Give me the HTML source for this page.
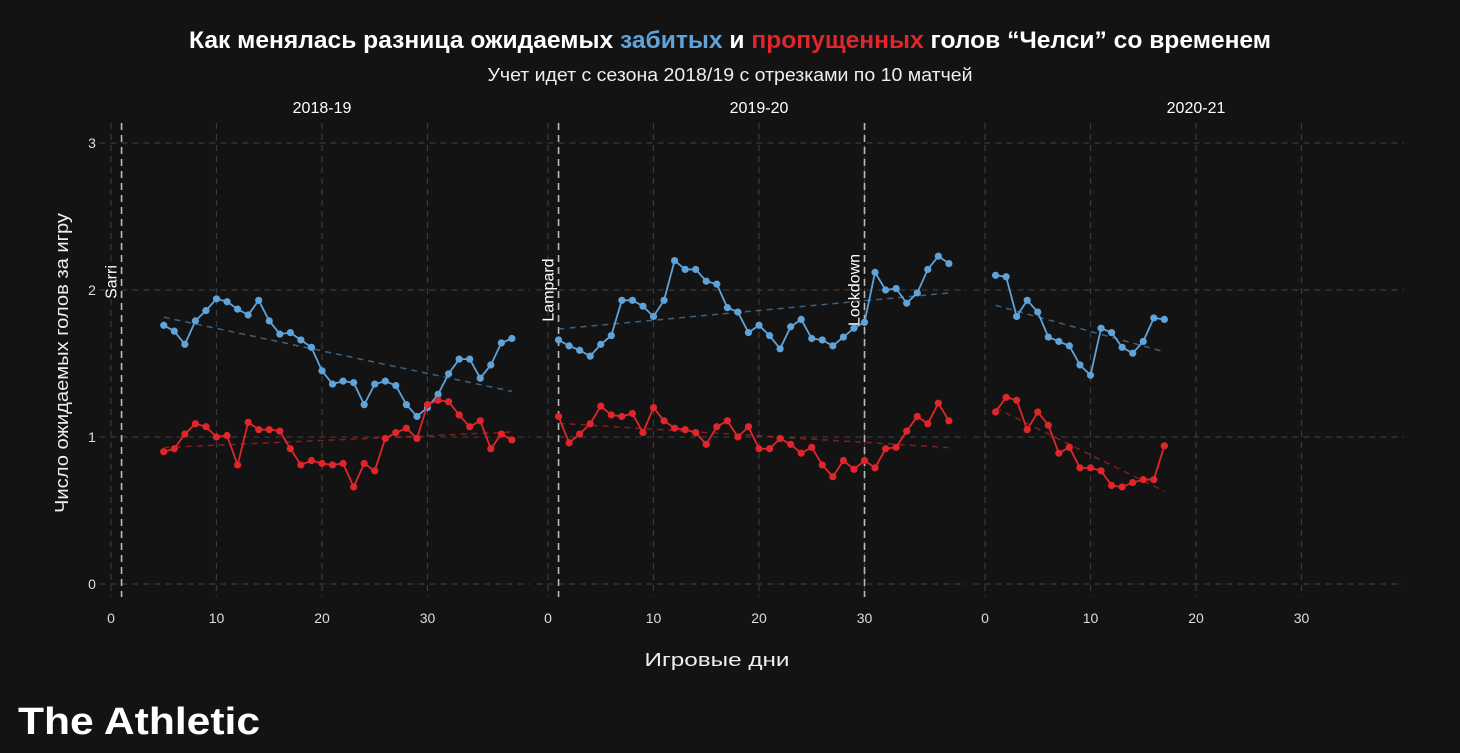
<!DOCTYPE html>
<html><head><meta charset="utf-8"><style>
html,body{margin:0;padding:0;background:#131313;}
svg{display:block;font-family:"Liberation Sans","Noto Sans CJK SC",sans-serif;}
</style></head><body>
<svg id="chart" width="1460" height="753" viewBox="0 0 1460 753" xmlns="http://www.w3.org/2000/svg">
<rect width="1460" height="753" fill="#131313"/>
<text x="730" y="48" text-anchor="middle" fill="#fff" font-size="24" font-weight="bold" textLength="1082" lengthAdjust="spacingAndGlyphs">Как менялась разница ожидаемых <tspan fill="#5fa3d9">забитых</tspan> и <tspan fill="#e0262b">пропущенных</tspan> голов “Челси” со временем</text>
<text x="730" y="81" text-anchor="middle" fill="#eee" font-size="18" textLength="485" lengthAdjust="spacingAndGlyphs">Учет идет с сезона 2018/19 с отрезками по 10 матчей</text>
<text transform="translate(68,363) rotate(-90)" text-anchor="middle" fill="#eee" font-size="18" textLength="300" lengthAdjust="spacingAndGlyphs">Число ожидаемых голов за игру</text>
<text x="717" y="666" text-anchor="middle" fill="#eee" font-size="18" textLength="145" lengthAdjust="spacingAndGlyphs">Игровые дни</text>
<text x="18" y="734" fill="#fff" font-size="38" font-weight="bold" textLength="242" lengthAdjust="spacingAndGlyphs">The Athletic</text>
<g id="plot"></g>
</svg>
<script>
const seasons = ["2018-19","2019-20","2020-21"];
const xTicks = [0,10,20,30];
const yTicks = [0,1,2,3];
const xgFor1 = [1.76,1.72,1.63,1.79,1.86,1.94,1.92,1.87,1.83,1.93,1.79,1.70,1.71,1.66,1.61,1.45,1.36,1.38,1.37,1.22,1.36,1.38,1.35,1.22,1.14,1.20,1.29,1.43,1.53,1.53,1.40,1.49,1.64,1.67];
const xgAg1 = [0.90,0.92,1.02,1.09,1.07,1.00,1.01,0.81,1.10,1.05,1.05,1.04,0.92,0.81,0.84,0.82,0.81,0.82,0.66,0.82,0.77,0.99,1.03,1.06,0.99,1.22,1.25,1.24,1.15,1.07,1.11,0.92,1.02,0.98];
const start1 = 5;
const xgFor2 = [1.66,1.62,1.59,1.55,1.63,1.69,1.93,1.93,1.89,1.82,1.93,2.20,2.14,2.14,2.06,2.04,1.88,1.85,1.71,1.76,1.69,1.60,1.75,1.80,1.67,1.66,1.62,1.68,1.74,1.78,2.12,2.00,2.01,1.91,1.98,2.14,2.23,2.18];
const xgAg2 = [1.14,0.96,1.02,1.09,1.21,1.15,1.14,1.16,1.03,1.20,1.11,1.06,1.05,1.03,0.95,1.07,1.11,1.00,1.07,0.92,0.92,0.99,0.95,0.89,0.93,0.81,0.73,0.84,0.78,0.84,0.79,0.92,0.93,1.04,1.14,1.09,1.23,1.11];
const start2 = 1;
const xgFor3 = [2.10,2.09,1.82,1.93,1.85,1.68,1.65,1.62,1.49,1.42,1.74,1.71,1.61,1.57,1.65,1.81,1.80];
const xgAg3 = [1.17,1.27,1.25,1.05,1.17,1.08,0.89,0.93,0.79,0.79,0.77,0.67,0.66,0.69,0.71,0.71,0.94];
const start3 = 1;
const eventNames = ["Sarri","Lampard","Lockdown"];
const eventPanels = [0,1,1];
const eventDays = [1,1,30];

const NS="http://www.w3.org/2000/svg";
const plot=document.getElementById('plot');
const panelX0=[111,548,985];
const pxPerDay=10.55;
function xs(p,d){return panelX0[p]+d*pxPerDay;}
function ys(v){return 584-v*147;}
function mk(tag,attrs,parent){const e=document.createElementNS(NS,tag);for(const k in attrs)e.setAttribute(k,attrs[k]);(parent||plot).appendChild(e);return e;}
const panels=[[xgFor1,xgAg1,start1],[xgFor2,xgAg2,start2],[xgFor3,xgAg3,start3]];
const blue="#5fa3d9", red="#e0262b";

panels.forEach((pd,p)=>{
  const left=xs(p,-1.1), right=xs(p,39.7);
  yTicks.forEach(t=>{
    const l=mk('line',{x1:left,x2:right,y1:ys(t),y2:ys(t),stroke:"#3a3a3a","stroke-width":1.2,"stroke-dasharray":"6,5"});
    
    
  });
  xTicks.forEach(t=>{
    const l=mk('line',{x1:xs(p,t),x2:xs(p,t),y1:123,y2:597,stroke:"#3a3a3a","stroke-width":1.2,"stroke-dasharray":"6,5"});
    
    
    const tx=mk('text',{x:xs(p,t),y:623,"text-anchor":"middle",fill:"#ddd","font-size":14});
    tx.textContent=t;
    
    
  });
  const st=mk('text',{x:xs(p,20),y:113,"text-anchor":"middle",fill:"#fff","font-size":16});
  st.textContent=seasons[p];
  
  
});
yTicks.forEach(t=>{
  const tx=mk('text',{x:92,y:ys(t)+5,"text-anchor":"middle",fill:"#ddd","font-size":14});
  tx.textContent=t;
  
  
});
eventNames.forEach((n,i)=>{
  const x=xs(eventPanels[i],eventDays[i]);
  const l=mk('line',{x1:x,x2:x,y1:123,y2:597,stroke:"#bbb","stroke-width":1.6,"stroke-dasharray":"7,5"});
  
  
  const t=mk('text',{transform:`translate(${x-5},${n==="Sarri"?282:290}) rotate(-90)`,"text-anchor":"middle",fill:"#fff","font-size":16});
  t.textContent=n;
  
  
});
function trend(vals,start){
  const n=vals.length;let sx=0,sy=0,sxx=0,sxy=0;
  vals.forEach((v,i)=>{const x=start+i;sx+=x;sy+=v;sxx+=x*x;sxy+=x*v;});
  const b=(n*sxy-sx*sy)/(n*sxx-sx*sx), a=(sy-b*sx)/n;
  return [start,a+b*start,start+n-1,a+b*(start+n-1)];
}
panels.forEach((pd,p)=>{
  const start=pd[2];
  [[pd[0],blue,"xg-for"],[pd[1],red,"xg-against"]].forEach(([vals,col,nm])=>{
    const tr=trend(vals,start);
    const tl=mk('line',{x1:xs(p,tr[0]),y1:ys(tr[1]),x2:xs(p,tr[2]),y2:ys(tr[3]),stroke:col,"stroke-opacity":0.55,"stroke-width":1.5,"stroke-dasharray":"6,5"});
    
    
    const pts=vals.map((v,i)=>xs(p,start+i)+","+ys(v)).join(" ");
    const pl=mk('polyline',{points:pts,fill:"none",stroke:col,"stroke-width":1.8});
    
    
    vals.forEach((v,i)=>{
      const c=mk('circle',{cx:xs(p,start+i),cy:ys(v),r:3.6,fill:col});
      
      
    });
  });
});
</script>
</body></html>
